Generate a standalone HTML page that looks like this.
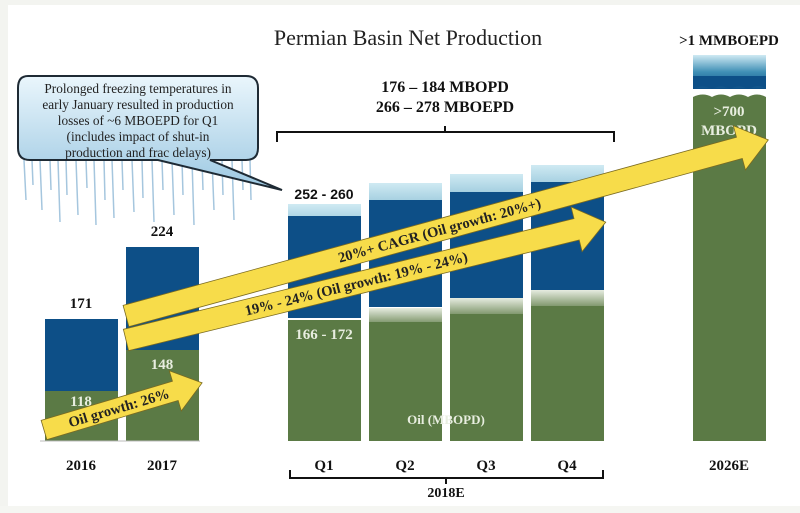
<!DOCTYPE html>
<html><head><meta charset="utf-8"><style>
body{margin:0;width:800px;height:513px;overflow:hidden;background:#fff}
svg{display:block}
text{font-family:"Liberation Serif",serif;font-weight:bold}
</style></head><body>
<svg width="800" height="513" viewBox="0 0 800 513">
<defs>
<linearGradient id="topg" x1="0" y1="0" x2="0" y2="1">
<stop offset="0" stop-color="#cfeaf3"/><stop offset="0.5" stop-color="#3f8fb5"/><stop offset="1" stop-color="#0d4f87"/></linearGradient>
<linearGradient id="gtop" x1="0" y1="0" x2="0" y2="1">
<stop offset="0" stop-color="#e6ece0"/><stop offset="1" stop-color="#5c7a45"/></linearGradient>
<linearGradient id="bub" x1="0" y1="0" x2="0" y2="1">
<stop offset="0" stop-color="#eaf6fc"/><stop offset="1" stop-color="#9cc8e2"/></linearGradient>
</defs>
<rect x="0" y="0" width="800" height="513" fill="#fff"/>
<rect x="0" y="0" width="8" height="513" fill="#f3f4f0"/>
<rect x="0" y="0" width="800" height="5" fill="#f3f4f0"/>
<rect x="0" y="506" width="800" height="7" fill="#f5f6f2"/>
<text x="408" y="45" font-size="22" text-anchor="middle" fill="#222" style="font-weight:normal">Permian Basin Net Production</text>

<!-- icicles -->
<g stroke="#8fb8d6" stroke-width="1.5" opacity="0.8">
<path d="M24 160 L26 200 M32 160 L33 185 M40 160 L42 210 M50 160 L51 190 M58 160 L60 222 M66 160 L67 195 M76 160 L78 215 M86 160 L87 188 M94 160 L96 225 M104 160 L105 200 M112 160 L114 218 M122 160 L123 190 M132 160 L134 212 M142 160 L143 198 M152 160 L154 222 M162 160 L163 190 M172 160 L174 215 M182 160 L183 195 M192 160 L194 225 M202 160 L203 190 M212 160 L214 210 M222 160 L223 195 M232 160 L234 220 M242 160 L243 190 M250 160 L251 200"/>
</g>
<path d="M28 76 Q18 76 18 88 L18 148 Q18 160 30 160 L158 160 L282 190 L210 160 L246 160 Q258 160 258 148 L258 88 Q258 76 246 76 Z" fill="url(#bub)" stroke="#1e2a34" stroke-width="2"/>
<g font-size="13.3" fill="#222" text-anchor="middle">
<text x="138" y="93" style="font-weight:normal">Prolonged freezing temperatures in</text>
<text x="138" y="109" style="font-weight:normal">early January resulted in production</text>
<text x="138" y="125" style="font-weight:normal">losses of ~6 MBOEPD for Q1</text>
<text x="138" y="141" style="font-weight:normal">(includes impact of shut-in</text>
<text x="138" y="157" style="font-weight:normal">production and frac delays)</text>
</g>

<!-- top bracket -->
<text x="445" y="92" font-size="16" text-anchor="middle" fill="#111">176 – 184 MBOPD</text>
<text x="445" y="112" font-size="16" text-anchor="middle" fill="#111">266 – 278 MBOEPD</text>
<path d="M277 142 L277 132 L614 132 L614 142 M445 132 L445 126" fill="none" stroke="#111" stroke-width="2"/>

<!-- bars -->
<rect x="45" y="319" width="73" height="72" fill="#0d4f87"/>
<rect x="45" y="391" width="73" height="50" fill="#5b7a45"/>
<rect x="126" y="247" width="73" height="103" fill="#0d4f87"/>
<rect x="126" y="350" width="73" height="91" fill="#5b7a45"/>

<rect x="288" y="204" width="73" height="114" fill="url(#topg)"/><rect x="288" y="216" width="73" height="102" fill="#0d4f87"/>
<rect x="288" y="320" width="73" height="121" fill="#5b7a45"/>
<rect x="369" y="183" width="73" height="124" fill="url(#topg)"/><rect x="369" y="200" width="73" height="107" fill="#0d4f87"/>
<rect x="369" y="308" width="73" height="20" fill="url(#gtop)"/><rect x="369" y="322" width="73" height="119" fill="#5b7a45"/>
<rect x="450" y="174" width="73" height="124" fill="url(#topg)"/><rect x="450" y="192" width="73" height="106" fill="#0d4f87"/>
<rect x="450" y="298" width="73" height="22" fill="url(#gtop)"/><rect x="450" y="314" width="73" height="127" fill="#5b7a45"/>
<rect x="531" y="165" width="73" height="125" fill="url(#topg)"/><rect x="531" y="182" width="73" height="108" fill="#0d4f87"/>
<rect x="531" y="290" width="73" height="22" fill="url(#gtop)"/><rect x="531" y="306" width="73" height="135" fill="#5b7a45"/>

<rect x="693" y="55" width="73" height="34" fill="url(#topg)"/>
<path d="M693 76 L766 76 L766 88 Q757 84 748 89 Q739 84 730 89 Q721 84 712 89 Q703 84 693 89 Z" fill="#0d4f87"/>
<path d="M693 97 Q703 92 712 97 Q721 92 730 97 Q739 92 748 97 Q757 92 766 97 L766 441 L693 441 Z" fill="#5b7a45"/>
<line x1="40" y1="441" x2="200" y2="441" stroke="#bbb" stroke-width="1"/>

<text x="81" y="308" font-size="15" text-anchor="middle" fill="#111">171</text>
<text x="162" y="236" font-size="15" text-anchor="middle" fill="#111">224</text>
<text x="324" y="199" font-size="14" text-anchor="middle" fill="#111" style="font-family:'Liberation Sans',sans-serif">252 - 260</text>
<text x="729" y="45" font-size="15" text-anchor="middle" fill="#111">&gt;1 MMBOEPD</text>
<g fill="#e8eee0" font-size="15" text-anchor="middle">
<text x="81" y="406">118</text>
<text x="162" y="369">148</text>
<text x="324" y="339">166 - 172</text>
<text x="729" y="116">&gt;700</text>
<text x="729" y="135">MBOPD</text>
<text x="446" y="424" font-size="13">Oil (MBOPD)</text>
</g>

<!-- arrows -->
<g fill="#f7dc4a" stroke="#7a6a20" stroke-width="0.8" font-size="14.5">
<g transform="translate(44,430) rotate(-16.6)">
<polygon points="0,-10 137,-10 137,-21 165,0 137,21 137,10 0,10"/>
<text x="78" y="5" text-anchor="middle" fill="#222" stroke="none">Oil growth: 26%</text>
</g>
<g transform="translate(126,340) rotate(-13.8)">
<polygon points="0,-11 464,-11 464,-23 494,0 464,23 464,11 0,11"/>
<text x="237" y="5" text-anchor="middle" fill="#222" stroke="none">19% - 24% (Oil growth: 19% - 24%)</text>
</g>
<g transform="translate(126,316) rotate(-15.33)">
<polygon points="0,-11 636,-11 636,-23 666,0 636,23 636,11 0,11"/>
<text x="325" y="5" text-anchor="middle" fill="#222" stroke="none">20%+ CAGR (Oil growth: 20%+)</text>
</g>
</g>

<!-- x labels -->
<g font-size="15" text-anchor="middle" fill="#111">
<text x="81" y="470">2016</text><text x="162" y="470">2017</text>
<text x="324" y="470">Q1</text><text x="405" y="470">Q2</text><text x="486" y="470">Q3</text><text x="567" y="470">Q4</text>
<text x="729" y="470">2026E</text>
<text x="446" y="497" font-size="14">2018E</text>
</g>
<path d="M290 470 L290 478 L603 478 L603 470 M446 478 L446 484" fill="none" stroke="#111" stroke-width="2"/>
</svg>
</body></html>
